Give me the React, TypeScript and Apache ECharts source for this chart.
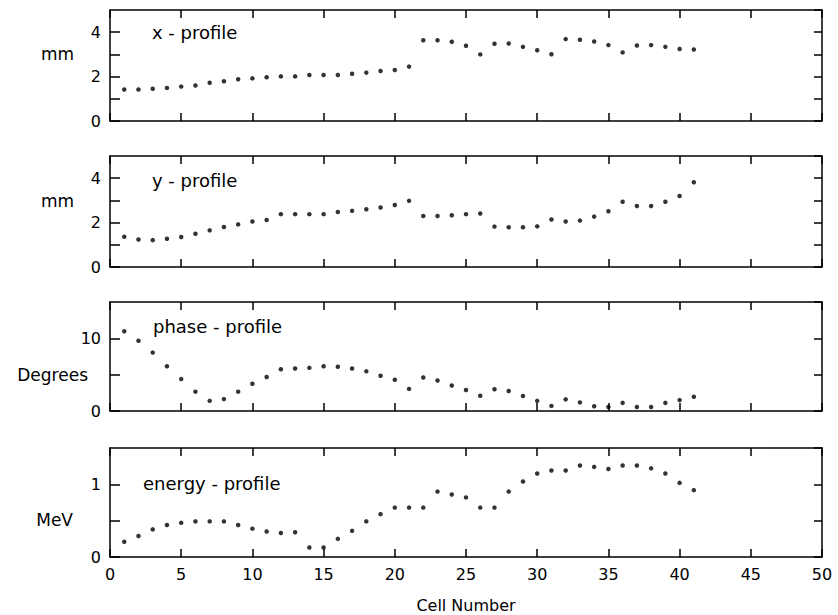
import React, { useEffect, useRef } from "react";
import * as echarts from "echarts";

const cells = [1, 2, 3, 4, 5, 6, 7, 8, 9, 10, 11, 12, 13, 14, 15, 16, 17, 18, 19, 20, 21, 22, 23, 24, 25, 26, 27, 28, 29, 30, 31, 32, 33, 34, 35, 36, 37, 38, 39, 40, 41];

const xProfile = [1.42, 1.42, 1.45, 1.49, 1.55, 1.6, 1.72, 1.79, 1.88, 1.92, 1.97, 2.01, 2.01, 2.07, 2.07, 2.07, 2.13, 2.18, 2.25, 2.3, 2.45, 3.64, 3.64, 3.57, 3.39, 3.0, 3.48, 3.49, 3.34, 3.19, 3.01, 3.69, 3.66, 3.58, 3.42, 3.09, 3.4, 3.42, 3.34, 3.24, 3.22];

const yProfile = [1.36, 1.24, 1.21, 1.27, 1.35, 1.5, 1.65, 1.8, 1.92, 2.05, 2.12, 2.38, 2.38, 2.38, 2.38, 2.48, 2.53, 2.6, 2.68, 2.79, 2.98, 2.3, 2.3, 2.33, 2.38, 2.41, 1.82, 1.79, 1.79, 1.83, 2.14, 2.05, 2.09, 2.27, 2.51, 2.94, 2.75, 2.75, 2.94, 3.2, 3.82];

const phaseProfile = [10.98, 9.66, 8.04, 6.16, 4.39, 2.66, 1.4, 1.64, 2.66, 3.74, 4.68, 5.74, 5.84, 5.94, 6.16, 6.08, 5.84, 5.46, 4.86, 4.3, 3.04, 4.62, 4.2, 3.5, 2.9, 2.1, 3.0, 2.76, 2.06, 1.4, 0.7, 1.6, 1.18, 0.66, 0.56, 1.12, 0.56, 0.56, 1.12, 1.5, 1.96];

const energyProfile = [0.21, 0.29, 0.38, 0.44, 0.47, 0.49, 0.49, 0.49, 0.44, 0.39, 0.35, 0.33, 0.34, 0.13, 0.13, 0.25, 0.36, 0.49, 0.59, 0.68, 0.68, 0.68, 0.9, 0.86, 0.82, 0.68, 0.68, 0.9, 1.04, 1.15, 1.19, 1.19, 1.26, 1.24, 1.21, 1.26, 1.26, 1.22, 1.15, 1.02, 0.92];

const panelTitles = ["x - profile", "y - profile", "phase - profile", "energy - profile"];
const unitNames = ["mm", "mm", "Degrees", "MeV"];
const yMax = [5, 5, 15, 1.5];
const yInterval = [1, 1, 5, 0.5];
const yLabelValues = [[0, 2, 4], [0, 2, 4], [0, 10], [0, 1]];
const xTickLabels = ["0", "5", "10", "15", "20", "25", "30", "35", "40", "45", "50"];
const xAxisName = "Cell Number";

const FONT = "DejaVu Sans";

export default function App() {
  const ref = useRef<HTMLDivElement>(null);
  useEffect(() => {
    if (!ref.current) return;
    const chart = echarts.init(ref.current, null, { renderer: "svg" });
    const series = [xProfile, yProfile, phaseProfile, energyProfile];
    const grids = [
      { left: 110, right: 16, top: 10, height: 111 },
      { left: 110, right: 16, top: 156, height: 111 },
      { left: 110, right: 16, top: 302, height: 109 },
      { left: 110, right: 16, top: 448, height: 109 },
    ];
    const line = { show: true, onZero: false, lineStyle: { color: "#000", width: 1.5 } };
    const tickIn = { show: true, inside: true, length: 8, lineStyle: { color: "#000", width: 1.5 } };
    const xAxes: any[] = [];
    const yAxes: any[] = [];
    grids.forEach((g, i) => {
      const last = i === 3;
      xAxes.push({
        type: "value", gridIndex: i, position: "bottom", min: 0, max: 50, interval: 5,
        axisLine: line, axisTick: tickIn, splitLine: { show: false },
        axisLabel: {
          show: last, color: "#000", fontFamily: FONT, fontSize: 16, margin: 9,
          formatter: (v: number) => xTickLabels[Math.round(v / 5)] ?? "",
        },
        name: last ? xAxisName : "", nameLocation: "middle", nameGap: 40,
        nameTextStyle: { color: "#000", fontFamily: FONT, fontSize: 16 },
      });
      xAxes.push({
        type: "value", gridIndex: i, position: "top", min: 0, max: 50, interval: 5,
        axisLine: line, axisTick: tickIn, splitLine: { show: false }, axisLabel: { show: false },
      });
      yAxes.push({
        type: "value", gridIndex: i, position: "left", min: 0, max: yMax[i], interval: yInterval[i],
        axisLine: line, axisTick: { ...tickIn, length: 10 }, splitLine: { show: false },
        axisLabel: {
          color: "#000", fontFamily: FONT, fontSize: 16, margin: 9, showMaxLabel: false,
          formatter: (v: number) => (yLabelValues[i].some((l) => Math.abs(l - v) < 1e-9) ? String(v) : ""),
        },
      });
      yAxes.push({
        type: "value", gridIndex: i, position: "right", min: 0, max: yMax[i], interval: yInterval[i],
        axisLine: line, axisTick: tickIn, splitLine: { show: false }, axisLabel: { show: false },
      });
    });
    const nameY = [54, 201, 375, 520];
    const nameX = [74, 74, 88, 73];
    const titleY = [32, 180, 326, 483];
    const titleX = [152, 152, 153, 143];
    const graphics: any[] = [];
    for (let i = 0; i < 4; i++) {
      graphics.push({
        type: "text", x: nameX[i], y: nameY[i],
        style: { text: unitNames[i], fill: "#000", font: `17px "${FONT}"`, textAlign: "right", textVerticalAlign: "middle" },
      });
      graphics.push({
        type: "text", x: titleX[i], y: titleY[i],
        style: { text: panelTitles[i], fill: "#000", font: `18px "${FONT}"`, textAlign: "left", textVerticalAlign: "middle" },
      });
    }
    chart.setOption({
      animation: false,
      backgroundColor: "#fff",
      grid: grids,
      xAxis: xAxes,
      yAxis: yAxes,
      graphic: graphics,
      series: series.map((arr, i) => ({
        type: "scatter",
        xAxisIndex: i * 2,
        yAxisIndex: i * 2,
        symbol: "circle",
        symbolSize: 4.5,
        itemStyle: { color: "#000" },
        data: cells.map((c, k) => [c, arr[k]]),
      })),
    });
    return () => chart.dispose();
  }, []);
  return <div ref={ref} style={{ position: "fixed", left: 0, top: 0, width: 838, height: 615 }} />;
}
